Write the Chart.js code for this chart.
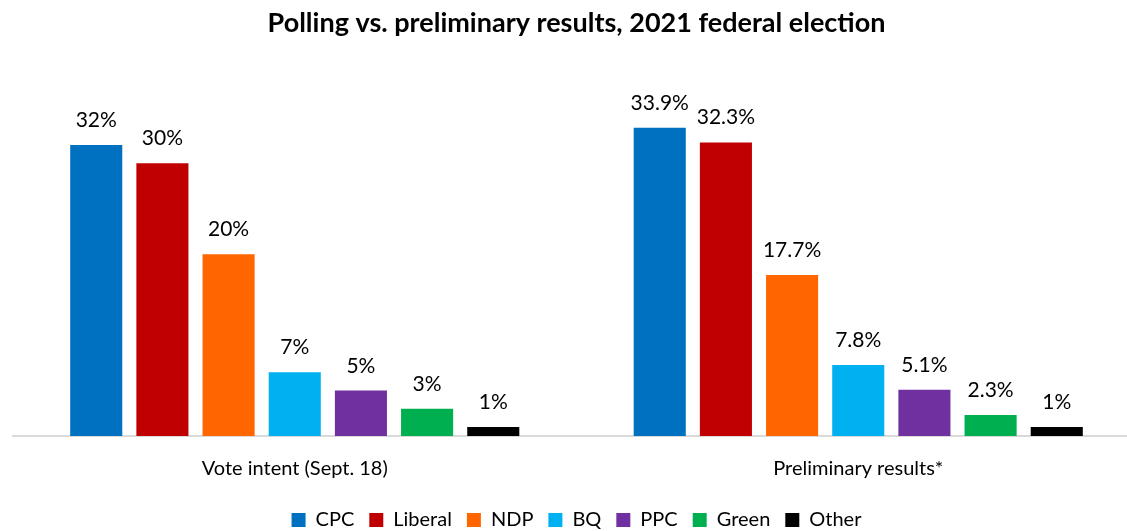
<!DOCTYPE html>
<html>
<head>
<meta charset="utf-8">
<script src="https://cdn.jsdelivr.net/npm/chart.js@4/dist/chart.umd.min.js"></script>
<style>
  html, body { margin: 0; padding: 0; background: #fff; overflow: hidden; }
  #wrap { width: 1140px; height: 531px; }
</style>
</head>
<body>
<div id="wrap"><canvas id="chart-polls"></canvas></div>
<script>
const categories = ["Vote intent (Sept. 18)", "Preliminary results*"];
const parties = ["CPC", "Liberal", "NDP", "BQ", "PPC", "Green", "Other"];
const partyColors = ["#0070C0", "#C00000", "#FF6600", "#00B0F0", "#7030A0", "#00B050", "#000000"];
const voteIntent = [32, 30, 20, 7, 5, 3, 1];
const preliminary = [33.9, 32.3, 17.7, 7.8, 5.1, 2.3, 1];
const voteIntentLabels = ["32%", "30%", "20%", "7%", "5%", "3%", "1%"];
const preliminaryLabels = ["33.9%", "32.3%", "17.7%", "7.8%", "5.1%", "2.3%", "1%"];

const FONT = "Lato, 'Open Sans', sans-serif";

// labels above each bar
const barLabels = {
  id: "barLabels",
  afterDatasetsDraw(chart) {
    const ctx = chart.ctx;
    ctx.save();
    ctx.font = "21px " + FONT;
    ctx.fillStyle = "#000";
    ctx.textAlign = "center";
    ctx.textBaseline = "alphabetic";
    chart.data.datasets.forEach((ds, i) => {
      const meta = chart.getDatasetMeta(i);
      meta.data.forEach((bar, j) => {
        ctx.fillText(ds.labelsText[j], bar.x, bar.y - 18);
      });
    });
    ctx.restore();
  }
};

const datasets = parties.map((p, i) => ({
  label: p,
  data: [voteIntent[i], preliminary[i]],
  labelsText: [voteIntentLabels[i], preliminaryLabels[i]],
  backgroundColor: partyColors[i],
  categoryPercentage: 0.822,
  barPercentage: 0.787
}));

const ctx = document.getElementById("chart-polls").getContext("2d");
new Chart(ctx, {
  type: "bar",
  data: { labels: categories, datasets: datasets },
  plugins: [barLabels],
  options: {
    responsive: true,
    maintainAspectRatio: false,
    animation: false,
    layout: { padding: { left: 13, right: 0, top: 5, bottom: -9 } },
    plugins: {
      title: {
        display: true,
        text: "Polling vs. preliminary results, 2021 federal election",
        color: "#000",
        font: { family: FONT, size: 27, weight: "bold" },
        padding: { top: 2, bottom: 33 }
      },
      legend: {
        position: "bottom",
        labels: {
          color: "#000",
          font: { family: FONT, size: 20 },
          boxWidth: 14,
          boxHeight: 14,
          padding: 15
        }
      },
      tooltip: { enabled: false }
    },
    scales: {
      x: {
        grid: { display: false, drawTicks: false },
        border: { display: true, color: "#d9d9d9", width: 2 },
        ticks: { color: "#000", font: { family: FONT, size: 20 }, padding: 21 },
        // legend needs more room, take it back from the axis box
        afterFit: (scale) => { scale.height -= 7; }
      },
      y: {
        display: false,
        min: 0,
        max: 40
      }
    }
  }
});
</script>
</body>
</html>
